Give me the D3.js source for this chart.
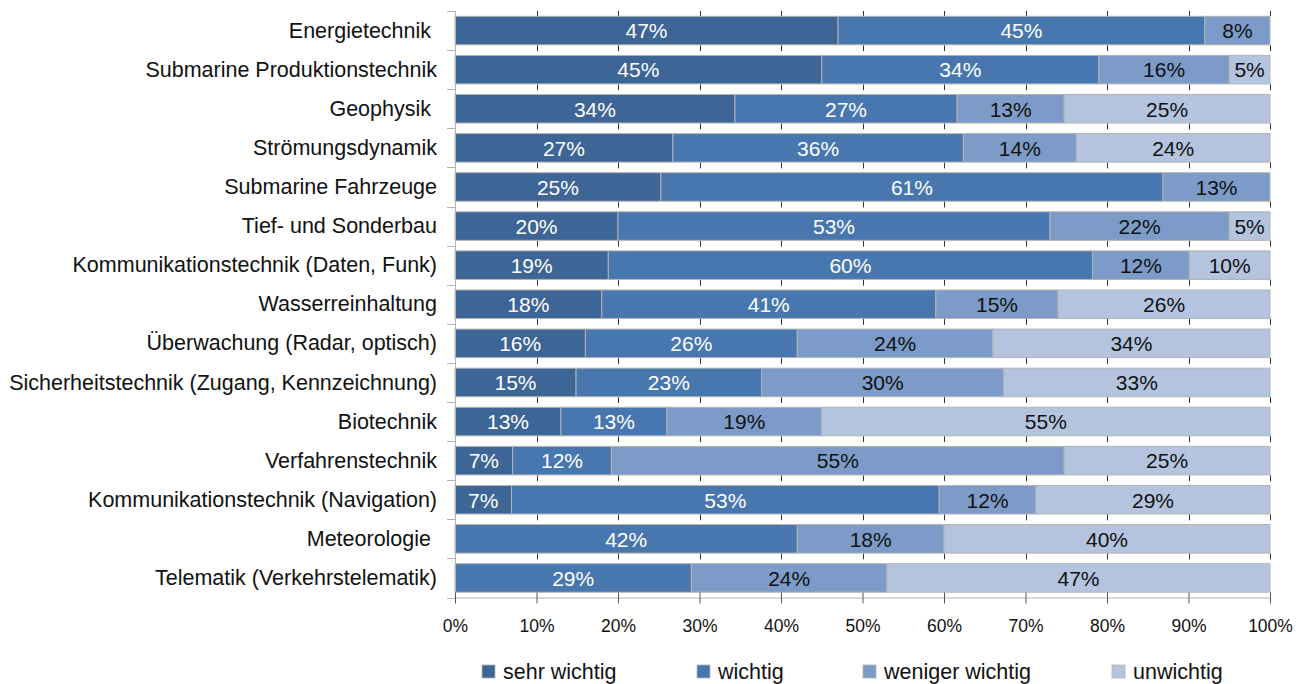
<!DOCTYPE html>
<html>
<head>
<meta charset="utf-8">
<script src="https://cdn.jsdelivr.net/npm/d3@7"></script>
<style>
  html, body { margin: 0; padding: 0; background: #fff; }
  svg { display: block; font-family: "Liberation Sans", Arial, sans-serif; }
  .cat { white-space: pre; }
</style>
</head>
<body>
<svg id="chart" width="1305" height="684"></svg>
<script>
// Fachgebiete (Reihenfolge von oben nach unten)
const categories = [
  "Energietechnik ",
  "Submarine Produktionstechnik",
  "Geophysik ",
  "Strömungsdynamik",
  "Submarine Fahrzeuge",
  "Tief- und Sonderbau",
  "Kommunikationstechnik (Daten, Funk)",
  "Wasserreinhaltung",
  "Überwachung (Radar, optisch)",
  "Sicherheitstechnik (Zugang, Kennzeichnung)",
  "Biotechnik",
  "Verfahrenstechnik",
  "Kommunikationstechnik (Navigation)",
  "Meteorologie ",
  "Telematik (Verkehrstelematik)"
];

// Anteile der Antworten in Prozent je Fachgebiet
const sehrWichtig    = [47, 45, 34, 27, 25, 20, 19, 18, 16, 15, 13,  7,  7,  0,  0];
const wichtig        = [45, 34, 27, 36, 61, 53, 60, 41, 26, 23, 13, 12, 53, 42, 29];
const wenigerWichtig = [ 8, 16, 13, 14, 13, 22, 12, 15, 24, 30, 19, 55, 12, 18, 24];
const unwichtig      = [ 0,  5, 25, 24,  0,  5, 10, 26, 34, 33, 55, 25, 29, 40, 47];

const seriesNames = ["sehr wichtig", "wichtig", "weniger wichtig", "unwichtig"];
const seriesColors = ["#3d6596", "#4877af", "#7c9bc8", "#b4c4de"];
const labelColors = ["#ffffff", "#ffffff", "#111111", "#111111"];
const tickValues = [0, 0.1, 0.2, 0.3, 0.4, 0.5, 0.6, 0.7, 0.8, 0.9, 1.0];

const rows = categories.map((c, i) => ({
  cat: c,
  "sehr wichtig": sehrWichtig[i],
  "wichtig": wichtig[i],
  "weniger wichtig": wenigerWichtig[i],
  "unwichtig": unwichtig[i]
}));

const svg = d3.select("#chart");
const plot = { left: 455, right: 1270, top: 11, bottom: 597.5 };

const x = d3.scaleLinear().domain([0, 1]).range([plot.left, plot.right]);
const y = d3.scaleBand()
  .domain(categories)
  .range([plot.top, plot.bottom])
  .paddingInner(0.27)
  .paddingOuter(0.135);

// 100%-gestapelte Reihen
const stacked = d3.stack()
  .keys(seriesNames)
  .offset(d3.stackOffsetExpand)(rows);

// Achsen
const axisColor = "#b3b3b3";
const step = y.step();
const boundaries = d3.range(categories.length + 1).map(i => plot.top + i * step);

// kleine Teilstriche an den Kategoriegrenzen
const gTicks = svg.append("g");
boundaries.forEach((b, i) => {
  if (i === categories.length) return;
  const y1 = i === 0 ? b : b - 5;
  const y2 = i === 0 ? b + 5 : b + 1;
  gTicks.selectAll(null)
    .data(tickValues.slice(1))
    .enter().append("line")
    .attr("x1", d => Math.round(x(d)) + 0.5)
    .attr("x2", d => Math.round(x(d)) + 0.5)
    .attr("y1", y1).attr("y2", y2)
    .attr("stroke", "#333").attr("stroke-width", 1);
});

// Balken
const gBars = svg.append("g");
stacked.forEach((layer, si) => {
  gBars.selectAll(null)
    .data(layer.filter(d => d[1] - d[0] > 0))
    .enter().append("rect")
    .attr("x", d => x(d[0]))
    .attr("y", d => y(d.data.cat))
    .attr("width", d => x(d[1]) - x(d[0]))
    .attr("height", y.bandwidth())
    .attr("fill", seriesColors[si])
    .attr("stroke", axisColor)
    .attr("stroke-width", 1);
});

// Werte in den Balken
stacked.forEach((layer, si) => {
  svg.append("g").selectAll("text")
    .data(layer.filter(d => d.data[layer.key] > 0))
    .enter().append("text")
    .attr("x", d => (x(d[0]) + x(d[1])) / 2)
    .attr("y", d => y(d.data.cat) + y.bandwidth() / 2 + 7.8)
    .attr("text-anchor", "middle")
    .attr("font-size", 21)
    .attr("fill", labelColors[si])
    .text(d => d.data[layer.key] + "%");
});

// Y-Achse
const yAxis = d3.axisLeft(y).tickSize(0).tickFormat(d => d);
const gy = svg.append("g").attr("transform", `translate(${plot.left},0)`).call(yAxis);
gy.select(".domain").remove();
gy.selectAll("text")
  .attr("class", "cat")
  .attr("x", -18)
  .attr("dy", "0.33em")
  .attr("font-size", 21.5)
  .attr("font-family", "Liberation Sans, Arial, sans-serif")
  .attr("fill", "#111");
svg.append("line")
  .attr("x1", plot.left + 0.5).attr("x2", plot.left + 0.5)
  .attr("y1", plot.top).attr("y2", plot.bottom + 5)
  .attr("stroke", axisColor);
svg.append("g").selectAll("line")
  .data(boundaries)
  .enter().append("line")
  .attr("x1", plot.left - 8).attr("x2", plot.left)
  .attr("y1", d => Math.round(d) + 0.5).attr("y2", d => Math.round(d) + 0.5)
  .attr("stroke", axisColor);

// X-Achse
const xAxis = d3.axisBottom(x)
  .tickValues(tickValues)
  .tickFormat(d3.format(".0%"))
  .tickSizeInner(6)
  .tickSizeOuter(0)
  .tickPadding(16);
const gx = svg.append("g")
  .attr("transform", `translate(0,${Math.round(plot.bottom) - 0.5})`)
  .call(xAxis);
gx.select(".domain").attr("stroke", axisColor);
gx.selectAll(".tick line").attr("stroke", "#555").attr("y1", -5);
gx.selectAll(".tick text")
  .attr("font-size", 17.5)
  .attr("font-family", "Liberation Sans, Arial, sans-serif")
  .attr("fill", "#111");

// Legende
const legendX = [482, 697, 863, 1112];
const legend = svg.append("g").selectAll("g")
  .data(seriesNames)
  .enter().append("g")
  .attr("transform", (d, i) => `translate(${legendX[i]},665)`);
legend.append("rect")
  .attr("width", 13).attr("height", 13)
  .attr("fill", (d, i) => seriesColors[i])
  .attr("stroke", axisColor).attr("stroke-width", 0.8);
legend.append("text")
  .attr("x", 21).attr("y", 13.5)
  .attr("font-size", 21.5)
  .attr("fill", "#111")
  .text(d => d);
</script>
</body>
</html>
